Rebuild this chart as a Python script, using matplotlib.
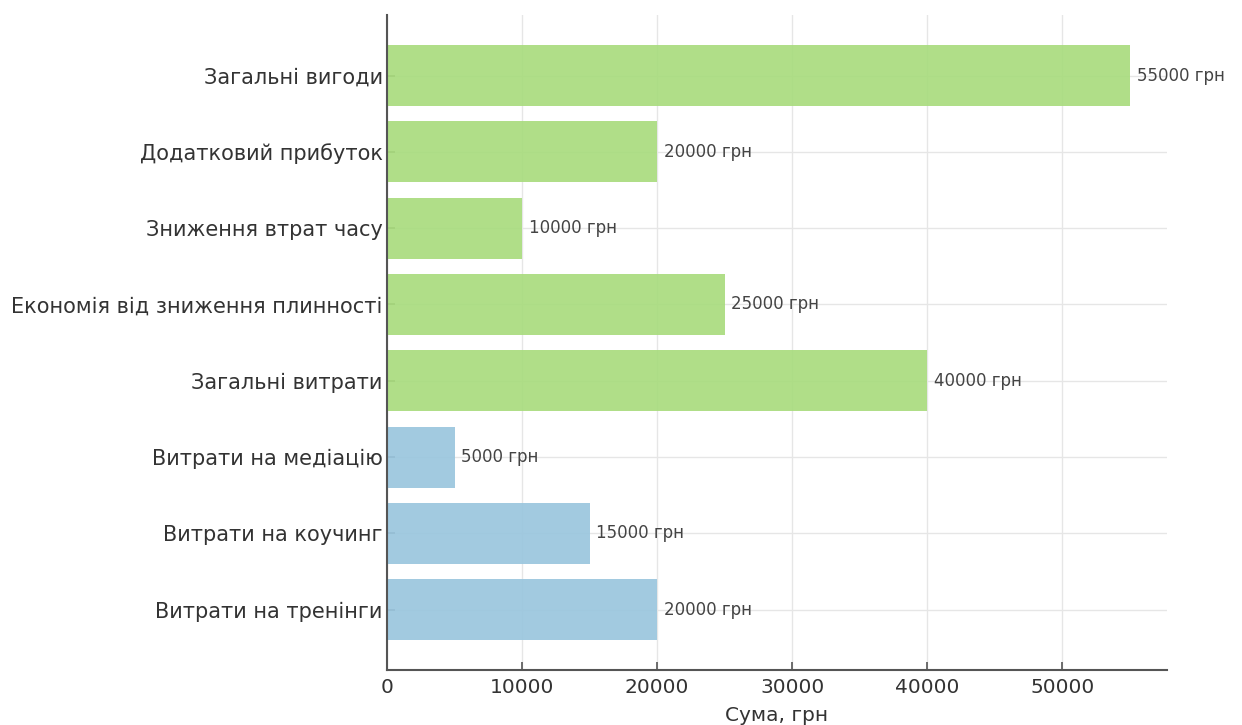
import matplotlib
matplotlib.use("Agg")
import matplotlib.pyplot as plt

categories = [
    "Витрати на тренінги",
    "Витрати на коучинг",
    "Витрати на медіацію",
    "Загальні витрати",
    "Економія від зниження плинності",
    "Зниження втрат часу",
    "Додатковий прибуток",
    "Загальні вигоди",
]
values = [20000, 15000, 5000, 40000, 25000, 10000, 20000, 55000]
groups = ["cost", "cost", "cost", "benefit", "benefit", "benefit", "benefit", "benefit"]
group_colors = {"cost": "#9ac6de", "benefit": "#a9dc7e"}
xlabel = "Сума, грн"

plt.rcParams["font.family"] = ["DejaVu Sans"]

fig = plt.figure(figsize=(12.42, 7.25), dpi=100)
ax = fig.add_axes([0.3116, 0.0759, 0.628, 0.903])

colors = [group_colors[g] for g in groups]
bars = ax.barh(categories, values, color=colors, height=0.8, alpha=0.92, zorder=2)

for bar, v in zip(bars, values):
    ax.text(bar.get_width() + 500, bar.get_y() + bar.get_height() / 2,
            f"{v} грн", va="center", ha="left", fontsize=12, color="#444444", zorder=3)

ax.set_xlabel(xlabel, fontsize=14.5, color="#333333", labelpad=6)
ax.grid(True, color="#e6e6e6", linewidth=1.0, zorder=0)
ax.set_axisbelow(True)

for side in ("top", "right"):
    ax.spines[side].set_visible(False)
for side in ("left", "bottom"):
    ax.spines[side].set_color("#555555")
    ax.spines[side].set_linewidth(1.5)

ax.tick_params(axis="both", direction="in", length=6, width=1.2, color="#555555",
               labelcolor="#333333")
ax.tick_params(axis="y", labelsize=15, pad=3)
ax.tick_params(axis="x", labelsize=14.5, pad=6)

fig.savefig("out.png", dpi=100)
